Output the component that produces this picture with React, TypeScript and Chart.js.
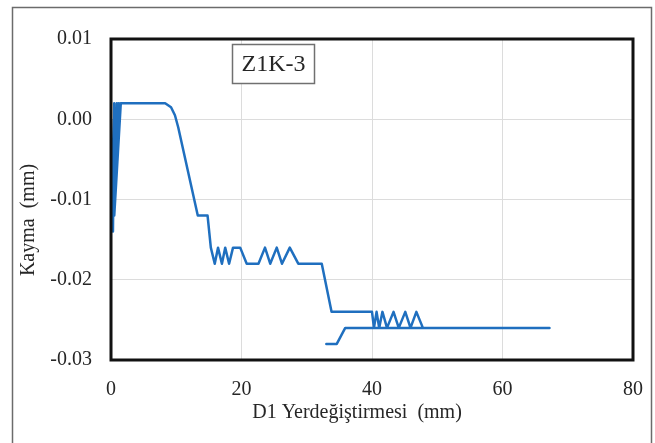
import React, { useEffect, useRef } from "react";
import { Chart, registerables } from "chart.js";

Chart.register(...registerables);

// D1 displacement (mm) and slip (mm) along the recorded path
const displacement = [
  0.0, 0.3, 0.5, 0.3, 0.9, 0.4, 1.2, 0.5, 1.5,
  8.3, 9.2, 9.8, 10.3, 13.3, 14.8, 15.3,
  15.9, 16.4, 17.0, 17.5, 18.1, 18.7,
  19.8, 20.8, 22.6, 23.6, 24.4, 25.4, 26.2, 27.4, 28.7, 32.3,
  33.8, 40.0, 40.3, 40.7, 41.1, 41.6, 42.3, 43.3, 44.1, 45.1, 45.9, 46.8, 47.8,
  67.2, 35.9, 34.6, 33.0,
];
const slip = [
  0.0, -0.014, 0.002, -0.012, 0.002, -0.010, 0.002, -0.012, 0.002,
  0.002, 0.0015, 0.0005, -0.001, -0.012, -0.012, -0.016,
  -0.018, -0.016, -0.018, -0.016, -0.018, -0.016,
  -0.016, -0.018, -0.018, -0.016, -0.018, -0.016, -0.018, -0.016, -0.018, -0.018,
  -0.024, -0.024, -0.026, -0.024, -0.026, -0.024, -0.026, -0.024, -0.026, -0.024, -0.026, -0.024, -0.026,
  -0.026, -0.026, -0.028, -0.028,
];

const xTicks = [0, 20, 40, 60, 80];
const yTicks = [-0.03, -0.02, -0.01, 0.0, 0.01];

const specimenLabel = "Z1K-3";
const xTitle = "D1 Yerdeğiştirmesi  (mm)";
const yTitle = "Kayma  (mm)";

const SERIF = '"Liberation Serif", "Times New Roman", serif';

const framePlugin = {
  id: "frameAndLabels",
  afterDraw(chart: any) {
    const { ctx, chartArea } = chart;
    const { left, top, right, bottom } = chartArea;
    ctx.save();

    // outer frame
    ctx.strokeStyle = "#6b6b6b";
    ctx.lineWidth = 1.5;
    ctx.beginPath();
    ctx.moveTo(12.5, 470);
    ctx.lineTo(12.5, 7.5);
    ctx.lineTo(651.5, 7.5);
    ctx.lineTo(651.5, 470);
    ctx.stroke();

    // plot border
    ctx.strokeStyle = "#111";
    ctx.lineWidth = 3;
    ctx.strokeRect(left, top, right - left, bottom - top);

    // specimen label box
    ctx.fillStyle = "#fff";
    ctx.fillRect(232, 44, 83, 40);
    ctx.strokeStyle = "#707070";
    ctx.lineWidth = 1.5;
    ctx.strokeRect(232.5, 44.5, 82, 39);
    ctx.fillStyle = "#262626";
    ctx.font = `24px ${SERIF}`;
    ctx.textAlign = "center";
    ctx.textBaseline = "middle";
    ctx.fillText(specimenLabel, 273.5, 65);

    // axis titles
    ctx.font = `20px ${SERIF}`;
    ctx.fillText(xTitle, 357, 413);
    ctx.translate(29, 220);
    ctx.rotate(-Math.PI / 2);
    ctx.fillText(yTitle, 0, 0);
    ctx.restore();
  },
};

export default function App() {
  const canvasRef = useRef<HTMLCanvasElement | null>(null);

  useEffect(() => {
    if (!canvasRef.current) return;
    const points = displacement.map((x, i) => ({ x, y: slip[i] }));
    const chart = new Chart(canvasRef.current, {
      type: "scatter",
      data: {
        datasets: [
          {
            data: points,
            showLine: true,
            borderColor: "#1f6fbf",
            backgroundColor: "#1f6fbf",
            borderWidth: 2.5,
            borderJoinStyle: "round",
            borderCapStyle: "round",
            pointRadius: 0,
            tension: 0,
          },
        ],
      },
      options: {
        responsive: false,
        animation: false,
        layout: { padding: { top: 39, right: 22, left: 0, bottom: 0 } },
        plugins: {
          legend: { display: false },
          tooltip: { enabled: false },
        },
        scales: {
          x: {
            type: "linear",
            min: xTicks[0],
            max: xTicks[xTicks.length - 1],
            afterFit: (scale: any) => {
              scale.height = 83;
              scale.paddingLeft = 0;
              scale.paddingRight = 0;
            },
            afterBuildTicks: (scale: any) => {
              scale.ticks = xTicks.map((v) => ({ value: v }));
            },
            grid: { color: "#dcdcdc", lineWidth: 1, drawTicks: false },
            border: { display: false },
            ticks: {
              padding: 18,
              color: "#262626",
              font: { family: SERIF, size: 20 },
              callback: (v: any) => String(v),
            },
          },
          y: {
            type: "linear",
            min: yTicks[0],
            max: yTicks[yTicks.length - 1],
            afterFit: (scale: any) => {
              scale.width = 111;
              scale.paddingTop = 0;
              scale.paddingBottom = 0;
            },
            afterBuildTicks: (scale: any) => {
              scale.ticks = yTicks.map((v) => ({ value: v }));
            },
            grid: { color: "#dcdcdc", lineWidth: 1, drawTicks: false },
            border: { display: false },
            ticks: {
              padding: 19,
              color: "#262626",
              font: { family: SERIF, size: 20 },
              callback: (v: any) => Number(v).toFixed(2),
            },
          },
        },
      },
      plugins: [framePlugin],
    });
    return () => chart.destroy();
  }, []);

  return (
    <div style={{ position: "fixed", left: 0, top: 0, width: 655, height: 443, background: "#fff" }}>
      <canvas ref={canvasRef} width={655} height={443} style={{ display: "block" }} />
    </div>
  );
}
